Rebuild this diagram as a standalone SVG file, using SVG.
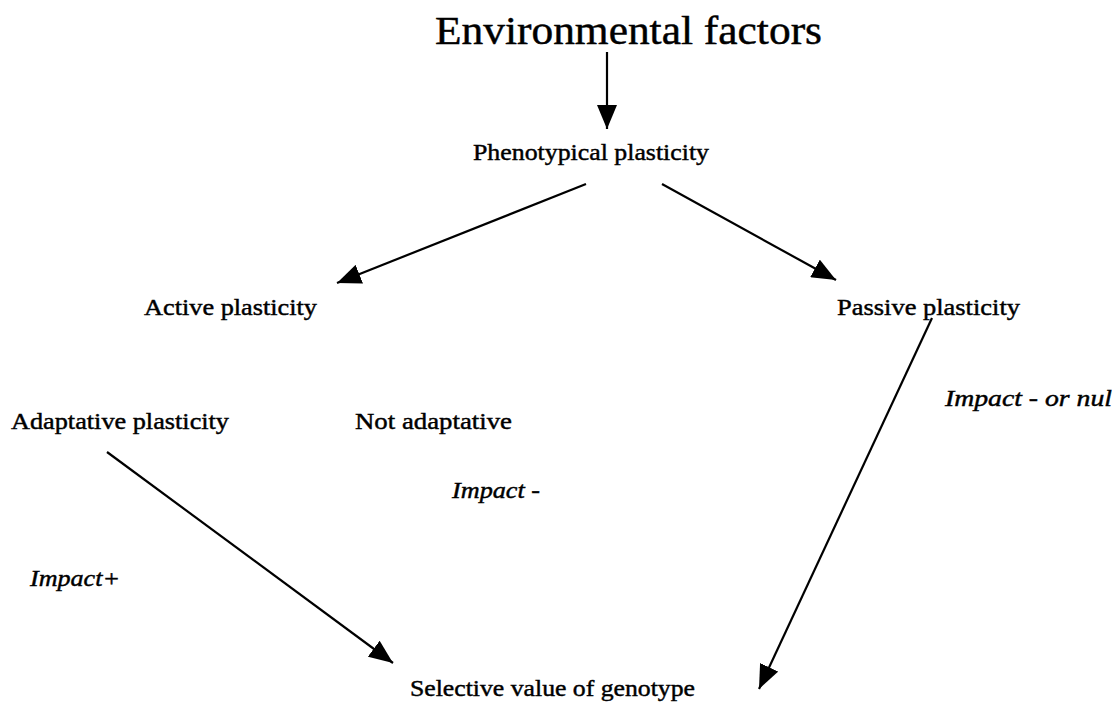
<svg xmlns="http://www.w3.org/2000/svg" width="1117" height="702" viewBox="0 0 1117 702">
<style>
text{font-family:"Liberation Serif","Times New Roman",serif;fill:#000;stroke:#000;stroke-width:0.45}
.t{font-size:24px}
.i{font-size:24px;font-style:italic}
.c{stroke:#000;stroke-width:2.2;fill:none}
</style>
<defs>
<marker id="ah" markerWidth="24" markerHeight="20" refX="24" refY="10" orient="auto" markerUnits="userSpaceOnUse">
<path d="M0,0 L24,10 L0,20 Z" fill="#000"/>
</marker>
</defs>
<rect width="1117" height="702" fill="#fff"/>
<g id="connectors">
<line class="c" x1="607" y1="52" x2="607" y2="129" marker-end="url(#ah)"/>
<line class="c" x1="586" y1="184" x2="337" y2="283" marker-end="url(#ah)"/>
<line class="c" x1="662" y1="184" x2="836" y2="280" marker-end="url(#ah)"/>
<line class="c" x1="932" y1="318" x2="759" y2="689" marker-end="url(#ah)"/>
<line class="c" x1="107" y1="452" x2="393" y2="663" marker-end="url(#ah)"/>
</g>
<g id="env"><text x="435" y="44" font-size="40" textLength="387" lengthAdjust="spacingAndGlyphs">Environmental factors</text></g>
<g id="pheno"><text class="t" x="473" y="160" textLength="236" lengthAdjust="spacingAndGlyphs">Phenotypical plasticity</text></g>
<g id="active"><text class="t" x="144" y="315" textLength="173" lengthAdjust="spacingAndGlyphs">Active plasticity</text></g>
<g id="passive"><text class="t" x="837" y="315" textLength="183" lengthAdjust="spacingAndGlyphs">Passive plasticity</text></g>
<g id="adaptative"><text class="t" x="11" y="429" textLength="218" lengthAdjust="spacingAndGlyphs">Adaptative plasticity</text></g>
<g id="notadaptative"><text class="t" x="355" y="429" textLength="157" lengthAdjust="spacingAndGlyphs">Not adaptative</text></g>
<g id="impactnul"><text class="i" x="945" y="406" textLength="167" lengthAdjust="spacingAndGlyphs">Impact - or nul</text></g>
<g id="impactminus"><text class="i" x="452" y="498" textLength="88" lengthAdjust="spacingAndGlyphs">Impact -</text></g>
<g id="impactplus"><text class="i" x="30" y="586" textLength="90" lengthAdjust="spacingAndGlyphs">Impact+</text></g>
<g id="selective"><text class="t" x="410" y="696" textLength="285" lengthAdjust="spacingAndGlyphs">Selective value of genotype</text></g>
</svg>
